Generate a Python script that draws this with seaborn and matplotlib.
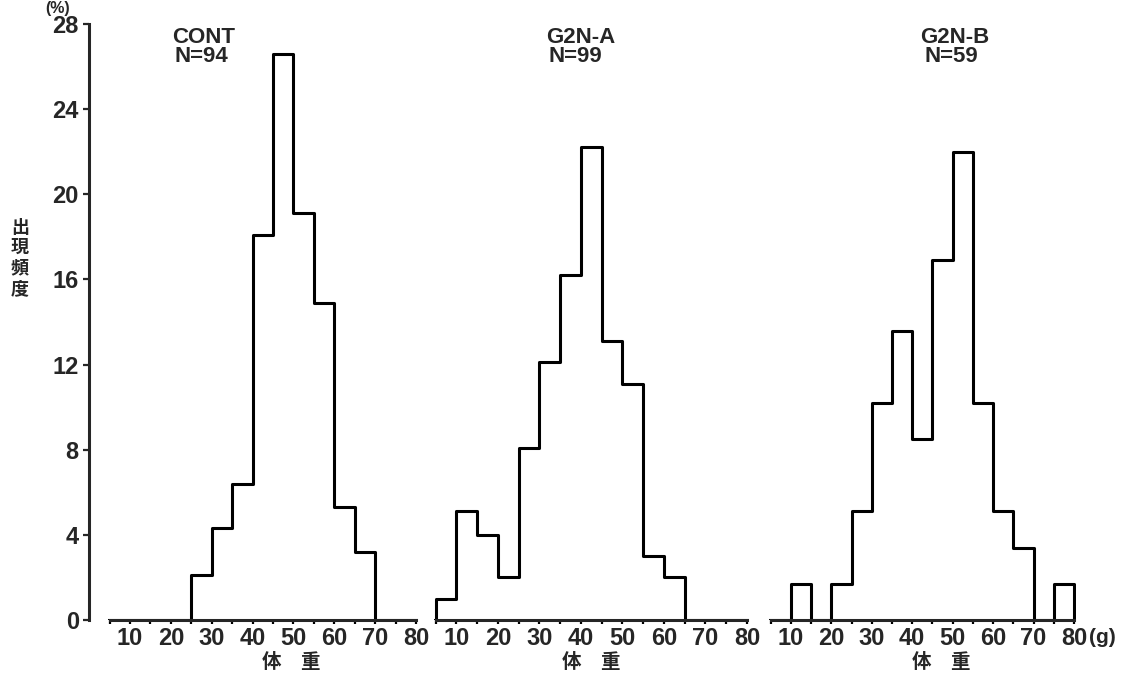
import numpy as np
import pandas as pd
import matplotlib
matplotlib.use("Agg")
import matplotlib.pyplot as plt
import seaborn as sns

# 5 g weight classes: left edges 5, 10, ..., 75
class_lo = [5, 10, 15, 20, 25, 30, 35, 40, 45, 50, 55, 60, 65, 70, 75]

# relative frequency (%) per class
cont_pct = [0, 0, 0, 0, 2.1, 4.3, 6.4, 18.1, 26.6, 19.1, 14.9, 5.3, 3.2, 0, 0]
g2na_pct = [1.0, 5.1, 4.0, 2.0, 8.1, 12.1, 16.2, 22.2, 13.1, 11.1, 3.0, 2.0, 0, 0, 0]
g2nb_pct = [0, 1.7, 0, 1.7, 5.1, 10.2, 13.6, 8.5, 16.9, 22.0, 10.2, 5.1, 3.4, 0, 1.7]

group_names = ["CONT", "G2N-A", "G2N-B"]
group_n = ["N=94", "N=99", "N=59"]

x_ticks = [10, 20, 30, 40, 50, 60, 70, 80]
y_ticks = [0, 4, 8, 12, 16, 20, 24, 28]

sns.set_style("ticks")
plt.rcParams["font.family"] = ["Liberation Sans", "Noto Sans CJK JP"]
plt.rcParams["font.weight"] = "bold"

W, H = 1124, 679
fig = plt.figure(figsize=(W / 100, H / 100), dpi=100)

# axes placement in pixels: (left, width)
panel_px = [(108, 310), (434, 315), (769, 307)]
y0_px, y28_px = 620, 24

binw = 5

axes = []
for i, (vals, (lpx, wpx)) in enumerate(zip([cont_pct, g2na_pct, g2nb_pct], panel_px)):
    ax = fig.add_axes([lpx / W, 1 - y0_px / H, wpx / W, (y0_px - y28_px) / H])
    centers = [c + binw / 2 for c in class_lo]
    df = pd.DataFrame({"weight_g": centers, "pct": vals})
    # empty classes on both sides close the outline down to the baseline
    sns.histplot(data=df, x="weight_g", weights="pct", binwidth=binw,
                 binrange=(0, 85), element="step", fill=False, color="black",
                 linewidth=2.2, ax=ax)
    ax.set_xlim(4.6, 80.5)
    ax.set_ylim(0, 28)
    ax.set_xlabel("")
    ax.set_ylabel("")
    for s in ["top", "right"]:
        ax.spines[s].set_visible(False)
    ax.spines["bottom"].set_linewidth(2.2)
    ax.spines["bottom"].set_bounds(5, 80)
    ax.set_xticks(x_ticks)
    ax.set_xticks([5, 15, 25, 35, 45, 55, 65, 75], minor=True)
    ax.set_xticklabels([str(t) for t in x_ticks])
    ax.tick_params(axis="x", which="both", direction="out", length=3, width=1.6,
                   pad=2, labelsize=17, color="black")
    for lab in ax.get_xticklabels():
        lab.set_fontweight("bold")
    if i == 0:
        ax.spines["left"].set_position(("outward", 14))
        ax.spines["left"].set_linewidth(2.2)
        ax.set_yticks(y_ticks)
        ax.set_yticklabels([str(t) for t in y_ticks])
        ax.tick_params(axis="y", direction="out", length=4, width=1.6, pad=3,
                       labelsize=17)
        for lab in ax.get_yticklabels():
            lab.set_fontweight("bold")
    else:
        ax.spines["left"].set_visible(False)
        ax.set_yticks([])
    axes.append(ax)


def ftext(xpx, ypx, s, **kw):
    fig.text(xpx / W, 1 - ypx / H, s, **kw)


# group headings
head_pos = [(172, 174), (546, 548), (920, 925)]
for (xa, xb), name, n in zip(head_pos, group_names, group_n):
    ftext(xa, 27, name, fontsize=16, fontweight="bold", va="top", ha="left")
    ftext(xb, 46, n, fontsize=16, fontweight="bold", va="top", ha="left")

# unit marks
ftext(45, 1, "(%)", fontsize=11.5, fontweight="bold", va="top", ha="left")
ftext(1089, 628, "(g)", fontsize=15, fontweight="bold", va="top", ha="left")

# y axis title, characters stacked vertically
ftext(20, 258, "出\n現\n頻\n度", fontsize=13, fontweight="bold", va="center",
      ha="center", linespacing=1.1, family=["Noto Sans CJK JP"])

# x axis titles
for xc in [291, 591, 941]:
    ftext(xc, 663, "体　重", fontsize=14, fontweight="bold", va="center",
          ha="center", family=["Noto Sans CJK JP"])

fig.savefig("out.png", dpi=100)
